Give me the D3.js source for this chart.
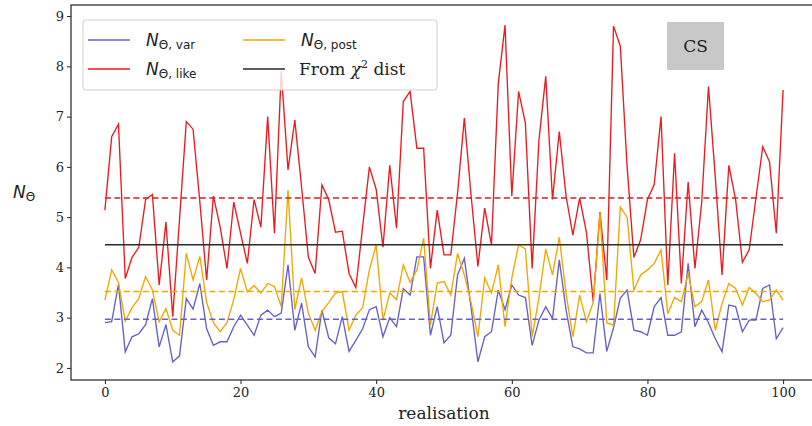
<!DOCTYPE html>
<meta charset="utf-8">
<style>
body { margin: 0; background: #fff; }
text { font-family: "DejaVu Serif", serif; }
.axis text { font-size: 13px; fill: #222; }
.axis path, .axis line { stroke: #222; }
</style>
<svg width="812" height="426"></svg>
<script src="https://cdn.jsdelivr.net/npm/d3@7"></script>
<script>

var svg = d3.select("svg");

// realisation index 0..100
var idx = d3.range(0, 101);

var nLike = [5.14, 6.6, 6.85, 3.78, 4.2, 4.4, 5.35, 5.45, 3.65, 4.9,
  3.02, 4.95, 6.9, 6.75, 5.3, 3.75, 5.42, 4.8, 3.98, 5.3,
  4.68, 4.08, 5.35, 4.8, 7.0, 4.68, 7.9, 5.94, 6.93, 5.6,
  4.2, 3.88, 5.64, 5.35, 4.7, 4.72, 3.88, 3.6, 4.8, 6.0,
  5.55, 4.4, 6.03, 4.78, 7.3, 7.5, 6.37, 6.37, 3.98, 5.14,
  4.25, 4.25, 5.48, 6.97, 5.42, 4.02, 5.18, 4.45, 7.65, 8.82,
  5.42, 7.5, 6.87, 3.98, 6.53, 7.8, 5.35, 6.7, 5.42, 4.64,
  5.38, 4.7, 3.32, 5.1, 3.75, 8.8, 8.4, 6.0, 4.2, 4.55,
  5.35, 5.65, 7.0, 3.65, 6.27, 3.68, 5.7, 3.98, 5.3, 7.6,
  5.8, 3.85, 6.03, 5.35, 4.1, 4.35, 5.38, 6.4, 6.1, 4.68,
  7.53];

var nPost = [3.35, 3.95, 3.7, 2.93, 3.2, 3.38, 3.82, 3.55, 2.92, 3.18,
  2.75, 2.65, 4.28, 3.75, 4.22, 3.3, 2.9, 2.72, 2.9, 3.36,
  3.98, 3.51, 3.64, 3.49, 3.68, 3.62, 3.22, 5.54, 3.16, 3.79,
  3.09, 2.75, 3.12, 3.3, 3.49, 3.52, 2.75, 3.05, 3.2, 3.95,
  4.45, 2.95, 3.49, 3.36, 4.05, 3.7, 3.95, 4.58, 2.85, 3.69,
  3.72, 3.45, 4.28, 3.85, 3.3, 2.62, 3.79, 3.49, 4.05, 2.82,
  3.79, 4.45, 4.37, 2.62, 3.4, 4.37, 3.85, 4.6, 3.48, 2.62,
  3.45, 2.92, 3.3, 5.08, 2.9, 2.85, 5.2, 5.0, 3.55, 3.85,
  3.95, 4.08, 4.35, 3.08, 3.4, 3.32, 3.88, 3.22, 3.32, 3.75,
  2.75, 3.28, 3.68, 3.58, 3.25, 3.6, 3.48, 3.32, 3.35, 3.55,
  3.35];

var nVar = [2.9, 2.92, 3.66, 2.32, 2.62, 2.68, 2.86, 3.38, 2.42, 2.86,
  2.12, 2.24, 3.38, 3.17, 3.68, 2.78, 2.45, 2.52, 2.52, 2.82,
  3.05, 2.85, 2.65, 3.05, 3.15, 3.02, 3.09, 4.05, 2.75, 3.29,
  2.42, 2.22, 3.15, 2.6, 2.48, 3.02, 2.33, 2.55, 2.78, 3.16,
  3.22, 2.62, 3.0, 2.82, 3.58, 3.45, 4.21, 4.21, 2.65, 3.22,
  2.5, 2.65, 3.85, 4.18, 3.2, 2.12, 2.62, 2.72, 3.55, 3.16,
  3.65, 3.45, 3.4, 2.45, 2.95, 3.22, 2.98, 4.15, 3.15, 2.42,
  2.38, 2.3, 2.3, 3.48, 2.33, 2.8, 3.39, 3.55, 2.75, 2.72,
  2.65, 3.22, 3.4, 2.65, 2.65, 2.72, 4.08, 2.82, 3.15, 2.9,
  2.58, 2.32, 3.25, 3.22, 2.72, 2.95, 2.95, 3.58, 3.65, 2.58,
  2.8];

// horizontal reference levels: mean of each series, and chi^2 value
var meanLike = 5.38, meanPost = 3.52, meanVar = 2.97, chi2Level = 4.45;

var xTicks = [0, 20, 40, 60, 80, 100];
var yTicks = [2, 3, 4, 5, 6, 7, 8, 9];

var cBlue = "#6560c8", cRed = "#ec1a1f", cOrange = "#f2a600", cBlack = "#2a2a2a";

var x = d3.scaleLinear().domain([-5, 105]).range([71, 817]);
var y = d3.scaleLinear().domain([1.76, 9.22]).range([380, 5]);

// frame
svg.append("rect")
  .attr("x", x(-5)).attr("y", y(9.22))
  .attr("width", x(105) - x(-5)).attr("height", y(1.76) - y(9.22))
  .attr("fill", "none").attr("stroke", "#222").attr("stroke-width", 1.2);

svg.append("g").attr("class", "axis")
  .attr("transform", "translate(0," + y(1.76) + ")")
  .call(d3.axisBottom(x).tickValues(xTicks).tickSize(4).tickPadding(4))
  .call(function (g) { g.select(".domain").remove(); });

svg.append("g").attr("class", "axis")
  .attr("transform", "translate(" + x(-5) + ",0)")
  .call(d3.axisLeft(y).tickValues(yTicks).tickSize(4).tickPadding(3))
  .call(function (g) { g.select(".domain").remove(); });

var line = d3.line()
  .x(function (d, i) { return x(idx[i]); })
  .y(function (d) { return y(d); });

function hline(v, col, dash) {
  svg.append("line")
    .attr("x1", x(0)).attr("x2", x(100))
    .attr("y1", y(v)).attr("y2", y(v))
    .attr("stroke", col).attr("stroke-width", 1.5)
    .attr("stroke-dasharray", dash ? "6,3.5" : null);
}

svg.append("path").datum(nVar).attr("d", line)
  .attr("fill", "none").attr("stroke", cBlue).attr("stroke-width", 1.35);
svg.append("path").datum(nLike).attr("d", line)
  .attr("fill", "none").attr("stroke", cRed).attr("stroke-width", 1.35);
svg.append("path").datum(nPost).attr("d", line)
  .attr("fill", "none").attr("stroke", cOrange).attr("stroke-width", 1.35);

hline(meanVar, cBlue, true);
hline(meanLike, "#d61e1e", true);
hline(meanPost, cOrange, true);
hline(chi2Level, cBlack, false);

// legend
var lg = svg.append("g");
lg.append("rect")
  .attr("x", 83).attr("y", 20).attr("width", 354).attr("height", 70)
  .attr("rx", 3).attr("fill", "#fff").attr("fill-opacity", 0.8)
  .attr("stroke", "#d0d0d0");

var legendItems = [
  {col: cBlue, sub: "Θ, var", x: 88, y: 40},
  {col: cOrange, sub: "Θ, post", x: 243, y: 40},
  {col: cRed, sub: "Θ, like", x: 88, y: 69},
  {col: cBlack, sub: null, x: 243, y: 69}
];
legendItems.forEach(function (d) {
  lg.append("line")
    .attr("x1", d.x).attr("x2", d.x + 42)
    .attr("y1", d.y).attr("y2", d.y)
    .attr("stroke", d.col).attr("stroke-width", 1.6);
  var t = lg.append("text").attr("x", d.x + 58).attr("y", d.y + 6)
    .style("font-size", "17px").attr("fill", "#222");
  if (d.sub) {
    t.append("tspan").style("font-family", "DejaVu Sans").style("font-style", "italic")
      .text("N");
    t.append("tspan").style("font-family", "DejaVu Sans").style("font-size", "12px")
      .attr("dy", 3).text(d.sub);
  } else {
    t.attr("x", d.x + 56);
    t.append("tspan").text("From ");
    t.append("tspan").style("font-style", "italic").text("χ");
    t.append("tspan").style("font-size", "11px").attr("dy", -7).text("2");
    t.append("tspan").attr("dy", 7).text(" dist");
  }
});

// CS tag
svg.append("rect").attr("x", 667).attr("y", 22).attr("width", 57).attr("height", 48)
  .attr("fill", "#c8c8c8");
svg.append("text").attr("x", 695.5).attr("y", 52).attr("text-anchor", "middle")
  .style("font-size", "17px").attr("fill", "#222").text("CS");

// axis labels
svg.append("text").attr("x", x(50)).attr("y", 419).attr("text-anchor", "middle")
  .style("font-size", "17px").attr("fill", "#222").text("realisation");

var yl = svg.append("text").attr("x", 13).attr("y", 198).attr("fill", "#222");
yl.append("tspan").style("font-family", "DejaVu Sans").style("font-style", "italic")
  .style("font-size", "17px").text("N");
yl.append("tspan").style("font-family", "DejaVu Sans").style("font-size", "12px")
  .attr("dy", 3).text("Θ");

</script>
